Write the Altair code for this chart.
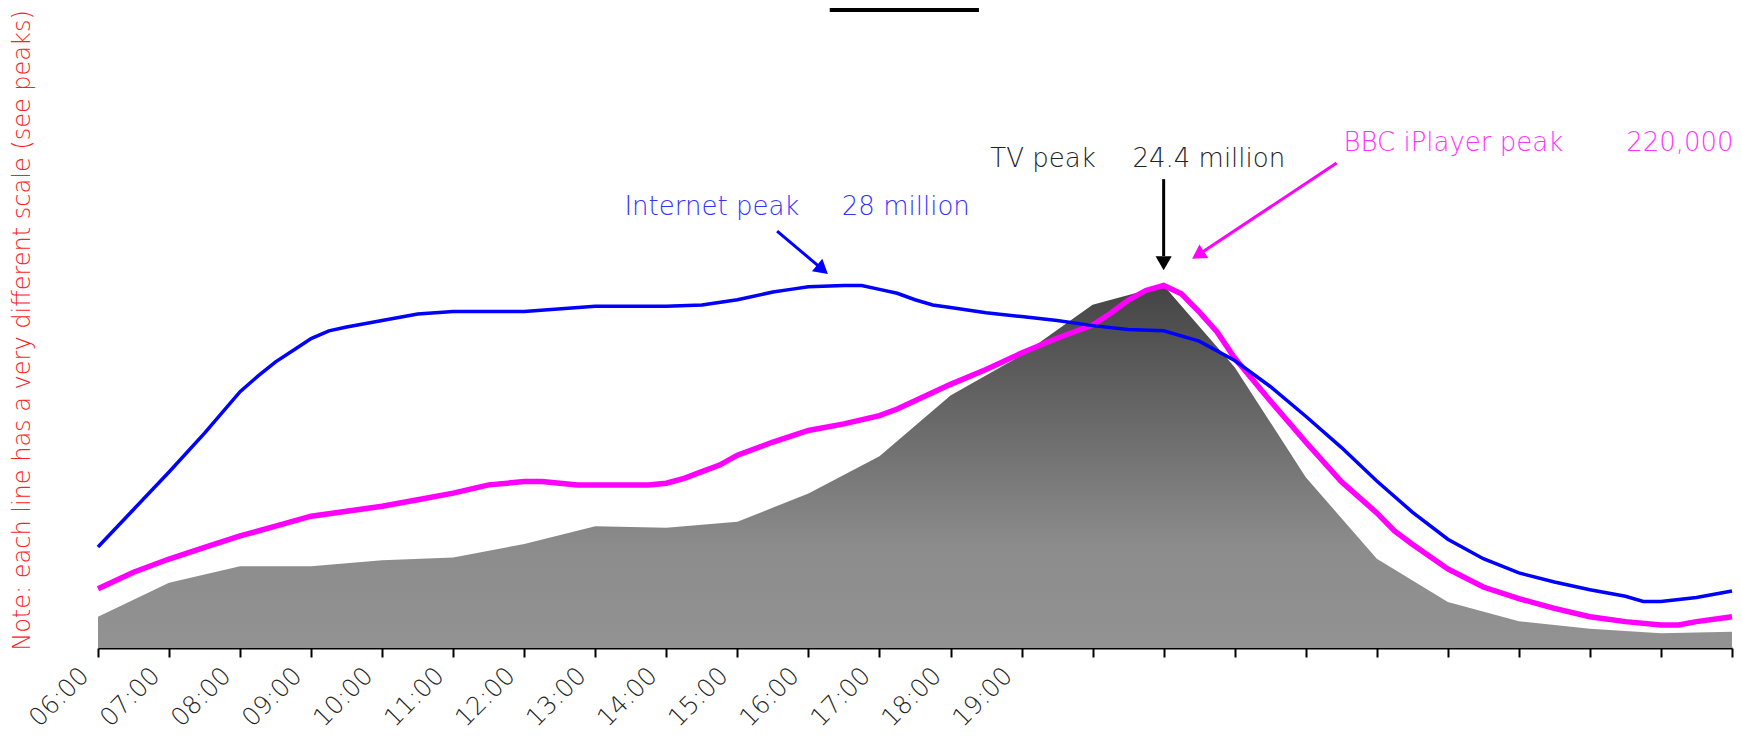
import altair as alt
import pandas as pd

FONT = "DejaVu Sans"

# ---------------- data ----------------
tick_hours = list(range(6, 30))  # 06:00 .. 05:00 next day

tv_hours = list(range(6, 30))
tv_millions = [2.1, 4.4, 5.5, 5.5, 5.9, 6.1, 7.0, 8.2, 8.1, 8.5, 10.4, 12.9,
               17.0, 19.7, 23.1, 24.4, 18.9, 11.5, 6.0, 3.1, 1.8, 1.3, 1.0, 1.1]

net_hours = [6.0, 6.5, 7.0, 7.5, 8.0, 8.25, 8.5, 8.75, 9.0, 9.25, 9.5, 10.0, 10.5,
             11.0, 12.0, 13.0, 14.0, 14.5, 15.0, 15.5, 15.75, 16.0, 16.5, 16.75,
             17.0, 17.25, 17.5, 17.75, 18.0, 18.5, 19.0, 19.5, 20.0, 20.5, 21.0,
             21.5, 22.0, 22.5, 23.0, 23.5, 24.0, 24.5, 25.0, 25.5, 26.0, 26.5,
             27.0, 27.5, 27.75, 28.0, 28.5, 29.0]
net_millions = [7.8, 10.7, 13.6, 16.6, 19.8, 21.0, 22.1, 23.0, 23.9, 24.5, 24.8, 25.3, 25.8,
                26.0, 26.0, 26.4, 26.4, 26.5, 26.9, 27.5, 27.7, 27.9, 28.0, 28.0,
                27.7, 27.4, 26.9, 26.5, 26.3, 25.9, 25.6, 25.3, 24.9, 24.6, 24.5,
                23.7, 22.2, 20.2, 17.9, 15.5, 12.9, 10.5, 8.4, 6.9, 5.8, 5.1,
                4.5, 4.0, 3.6, 3.6, 3.9, 4.4]

ip_hours = [6.0, 6.5, 7.0, 7.5, 8.0, 8.5, 9.0, 9.5, 10.0, 10.5, 11.0, 11.5, 12.0,
            12.25, 12.5, 12.75, 13.0, 13.5, 13.75, 14.0, 14.25, 14.5, 14.75, 15.0,
            15.5, 16.0, 16.5, 17.0, 17.25, 17.5, 18.0, 18.5, 19.0, 19.5, 20.0,
            20.25, 20.5, 20.75, 21.0, 21.25, 21.5, 21.75, 22.0, 22.5, 23.0, 23.5,
            24.0, 24.25, 24.5, 25.0, 25.5, 26.0, 26.5, 27.0, 27.5, 28.0, 28.25,
            28.5, 29.0]
ip_thousands = [36, 46, 54, 61, 68, 74, 80, 83, 86, 90, 94, 99, 101,
                101, 100, 99, 99, 99, 99, 100, 103, 107, 111, 117,
                125, 132, 136, 141, 145, 150, 160, 169, 179, 188, 196,
                203, 211, 217, 220, 215, 204, 192, 176, 150, 125, 101,
                82, 71, 63, 48, 37, 30, 24, 19, 16, 14, 14,
                16, 19]

TV_PEAK, NET_PEAK, IP_PEAK = 24.4, 28.0, 220.0
HEADROOM = 1.76  # every series' peak reaches the same height

# annotations (x in hours, y in TV-millions units)
note_text = "Note:  each line has a very different scale (see peaks)"
label_texts = ["Internet peak", "28 million", "TV peak", "24.4 million",
               "BBC iPlayer peak", "220,000"]
label_x = [13.41, 16.47, 18.56, 20.56, 23.53, 27.51]
label_y = [29.15, 29.15, 32.4, 32.4, 33.45, 33.45]
label_colors = ["#3333ff", "#3333ff", "#222222", "#222222", "#ff33ff", "#ff33ff"]

arrow_x0 = [15.559, 21.0, 23.435]
arrow_y0 = [28.06, 31.56, 32.64]
arrow_x1 = [16.130, 21.0, 21.557]
arrow_y1 = [25.76, 26.38, 26.69]
head_x = [16.173, 21.0, 21.511]
head_y = [25.58, 26.05, 26.54]
head_angle = [130, 180, 237]
arrow_colors = ["#0000ff", "#000000", "#ff00ff"]

top_bar_x = [16.30, 18.40]

# ---------------- chart ----------------
tv_df = pd.DataFrame({"hour": tv_hours, "value": tv_millions})
net_df = pd.DataFrame({"hour": net_hours, "value": net_millions})
ip_df = pd.DataFrame({"hour": ip_hours, "value": ip_thousands})
lab_df = pd.DataFrame({"x": label_x, "y": label_y, "text": label_texts, "c": label_colors})
arr_df = pd.DataFrame({"x0": arrow_x0, "y0": arrow_y0, "x1": arrow_x1, "y1": arrow_y1,
                       "hx": head_x, "hy": head_y, "a": head_angle, "c": arrow_colors})
bar_df = pd.DataFrame({"x0": [top_bar_x[0]], "x1": [top_bar_x[1]], "y": [TV_PEAK * HEADROOM]})

xs = alt.Scale(domain=[6, 29], nice=False, zero=False)
tv_scale = alt.Scale(domain=[0, TV_PEAK * HEADROOM], nice=False)
net_scale = alt.Scale(domain=[0, NET_PEAK * HEADROOM], nice=False)
ip_scale = alt.Scale(domain=[0, IP_PEAK * HEADROOM], nice=False)

x_axis = alt.Axis(
    values=tick_hours,
    labelExpr="datum.value <= 19 ? (datum.value < 10 ? '0' : '') + datum.value + ':00' : ''",
    labelAngle=-45, labelAlign="right", labelBaseline="middle",
    labelOffset=-14, labelPadding=14, labelFlush=False, labelOverlap=False,
    labelFont=FONT, labelFontSize=25, labelFontWeight=300, labelColor="#222222",
    tickSize=9, tickWidth=2, tickColor="black",
    domainColor="black", domainWidth=2, grid=False, title=None,
)
y_axis = alt.Axis(
    title=note_text, titleColor="#ff2222", titleFont=FONT, titleFontSize=24,
    titleFontWeight=300, titleX=-76, titleY=320, titleAngle=270,
    titleAlign="center", titleBaseline="middle",
    labels=False, ticks=False, domain=False, grid=False,
)

gradient = alt.Gradient(
    gradient="linear", x1=0, x2=0, y1=0, y2=1,
    stops=[alt.GradientStop(color="#444444", offset=0),
           alt.GradientStop(color="#8c8c8c", offset=0.72),
           alt.GradientStop(color="#929292", offset=1)],
)


def X(field):
    return alt.X(field, scale=xs, axis=x_axis)


area = alt.Chart(tv_df).mark_area(color=gradient).encode(
    x=X("hour:Q"),
    y=alt.Y("value:Q", scale=tv_scale, axis=y_axis),
)
ip_line = alt.Chart(ip_df).mark_line(color="#ff00ff", strokeWidth=5.5).encode(
    x=X("hour:Q"),
    y=alt.Y("value:Q", scale=ip_scale, axis=None),
)
net_line = alt.Chart(net_df).mark_line(color="#0000ff", strokeWidth=3.5).encode(
    x=X("hour:Q"),
    y=alt.Y("value:Q", scale=net_scale, axis=None),
)
labels = alt.Chart(lab_df).mark_text(
    font=FONT, fontSize=26, fontWeight=300, align="left", baseline="alphabetic"
).encode(
    x=X("x:Q"),
    y=alt.Y("y:Q", scale=tv_scale, axis=None),
    text="text:N",
    color=alt.Color("c:N", scale=None),
)
arrows = alt.Chart(arr_df).mark_rule(strokeWidth=3).encode(
    x=X("x0:Q"), x2="x1:Q",
    y=alt.Y("y0:Q", scale=tv_scale, axis=None), y2="y1:Q",
    color=alt.Color("c:N", scale=None),
)
heads = alt.Chart(arr_df).mark_point(shape="triangle", filled=True, size=260, opacity=1).encode(
    x=X("hx:Q"),
    y=alt.Y("hy:Q", scale=tv_scale, axis=None),
    angle=alt.Angle("a:Q", scale=None),
    color=alt.Color("c:N", scale=None),
)
top_bar = alt.Chart(bar_df).mark_rule(strokeWidth=4, color="black").encode(
    x=X("x0:Q"), x2="x1:Q",
    y=alt.Y("y:Q", scale=tv_scale, axis=None),
)

chart = alt.layer(area, ip_line, net_line, labels, arrows, heads, top_bar).resolve_scale(
    y="independent"
).properties(
    width=1634, height=638,
    padding={"left": 90, "top": 2, "right": 2, "bottom": 86},
    autosize="none", background="white",
).configure_view(stroke=None)

chart.save("out.html", embed_options={"renderer": "svg", "actions": False})
